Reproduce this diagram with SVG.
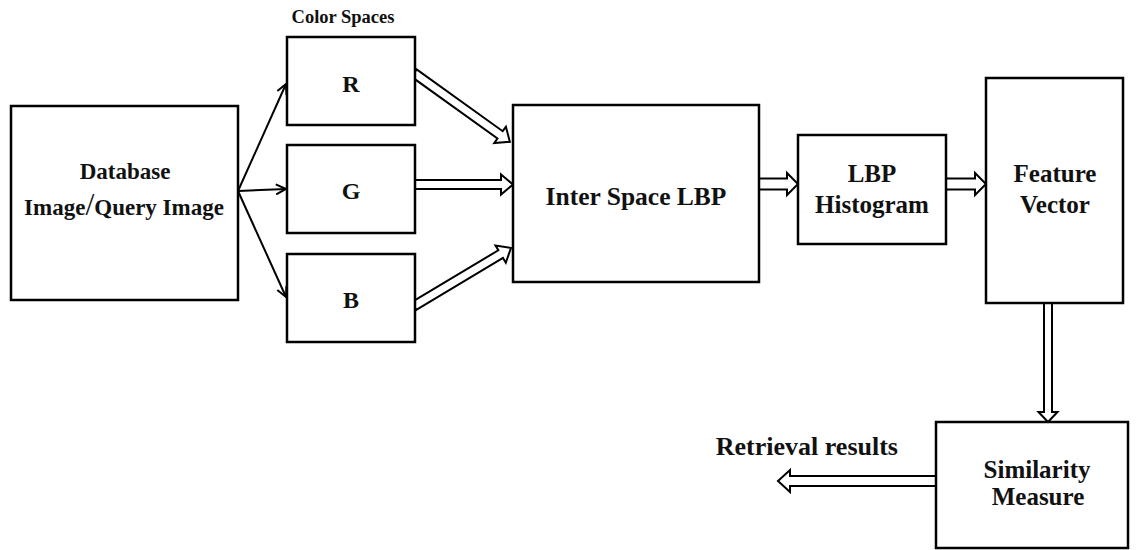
<svg xmlns="http://www.w3.org/2000/svg" width="1137" height="550" viewBox="0 0 1137 550">
<defs>
<style>
.box{fill:#fff;stroke:#000;stroke-width:2.5}
.t{font-family:"Liberation Serif","Times New Roman",serif;font-weight:bold;fill:#111;text-anchor:middle}
.thin{stroke:#000;stroke-width:2;fill:none}
.hollow{fill:#fff;stroke:#000;stroke-width:2;stroke-linejoin:miter}
</style>
<marker id="open" markerWidth="12" markerHeight="12" refX="11" refY="6" orient="auto" markerUnits="userSpaceOnUse">
<path d="M1,1 L11,6 L1,11" fill="none" stroke="#000" stroke-width="2"/>
</marker>
</defs>
<rect width="1137" height="550" fill="#fff"/>
<g id="connectors">
<line class="thin" x1="238" y1="191" x2="286" y2="84" marker-end="url(#open)"/>
<line class="thin" x1="238" y1="191" x2="286" y2="189" marker-end="url(#open)"/>
<line class="thin" x1="238" y1="191" x2="286" y2="297" marker-end="url(#open)"/>
<polygon class="hollow" transform="translate(414,73) rotate(35.7)" points="0,-4.5 106,-4.5 106,-10 118,0 106,10 106,4.5 0,4.5"/>
<polygon class="hollow" transform="translate(415,184.5) rotate(0)" points="0,-4.5 86,-4.5 86,-10 98,0 86,10 86,4.5 0,4.5"/>
<polygon class="hollow" transform="translate(414,306) rotate(-30.9)" points="0,-4.5 101,-4.5 101,-10 113,0 101,10 101,4.5 0,4.5"/>
<polygon class="hollow" transform="translate(759,184) rotate(0)" points="0,-5.5 28,-5.5 28,-11 39,0 28,11 28,5.5 0,5.5"/>
<polygon class="hollow" transform="translate(946,184) rotate(0)" points="0,-5.5 29,-5.5 29,-11 40,0 29,11 29,5.5 0,5.5"/>
<polygon class="hollow" transform="translate(1048,303) rotate(90)" points="0,-4 109,-4 109,-9.5 119,0 109,9.5 109,4 0,4"/>
<polygon class="hollow" transform="translate(936,481) rotate(180)" points="0,-5 146,-5 146,-11 158,0 146,11 146,5 0,5"/>
</g>
<g id="database">
<rect class="box" x="11" y="106" width="227" height="194"/>
<text class="t" x="125" y="179" font-size="23">Database</text>
<text class="t" x="124" y="215" font-size="23">Image<tspan font-size="32" font-weight="normal">/</tspan>Query Image</text>
</g>
<text class="t" x="343" y="23" font-size="18.5">Color Spaces</text>
<g id="r">
<rect class="box" x="287" y="37" width="128" height="88"/>
<text class="t" x="351" y="92" font-size="24">R</text>
</g>
<g id="g">
<rect class="box" x="287" y="145" width="128" height="88"/>
<text class="t" x="351" y="199" font-size="24">G</text>
</g>
<g id="b">
<rect class="box" x="287" y="254" width="128" height="88"/>
<text class="t" x="351" y="308" font-size="24">B</text>
</g>
<g id="interspace">
<rect class="box" x="513" y="105" width="246" height="177"/>
<text class="t" x="636" y="205" font-size="25.5">Inter Space LBP</text>
</g>
<g id="histogram">
<rect class="box" x="798" y="135" width="148" height="109"/>
<text class="t" x="872" y="182" font-size="25">LBP</text>
<text class="t" x="872" y="213" font-size="25">Histogram</text>
</g>
<g id="feature">
<rect class="box" x="986" y="78" width="137" height="225"/>
<text class="t" x="1055" y="182" font-size="25">Feature</text>
<text class="t" x="1055" y="213" font-size="25">Vector</text>
</g>
<g id="similarity">
<rect class="box" x="936" y="422" width="192" height="126"/>
<text class="t" x="1037" y="478" font-size="25">Similarity</text>
<text class="t" x="1038" y="505" font-size="25">Measure</text>
</g>
<text class="t" x="898" y="455" font-size="26" style="text-anchor:end">Retrieval results</text>
</svg>
